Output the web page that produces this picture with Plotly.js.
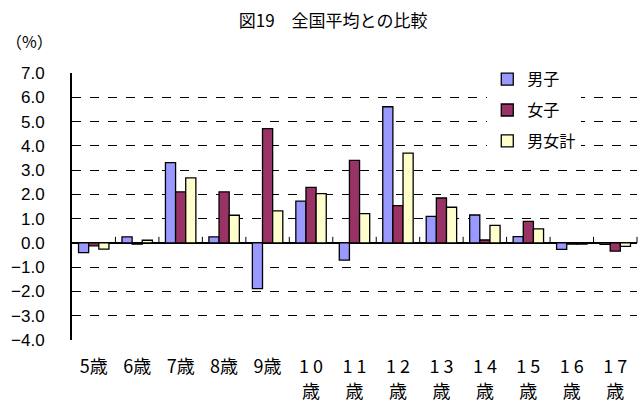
<!DOCTYPE html>
<html><head><meta charset="utf-8">
<script src="https://cdn.plot.ly/plotly-3.0.1.min.js"></script>
<style>body{margin:0;background:#fff}#c{width:643px;height:403px}</style>
</head><body><div id="c"></div>
<script>
const categories = ["5歳","6歳","7歳","8歳","9歳","10歳","11歳","12歳","13歳","14歳","15歳","16歳","17歳"];
const labelLine1 = ["5歳","6歳","7歳","8歳","9歳","1 0","1 1","1 2","1 3","1 4","1 5","1 6","1 7"];
const labelLine2 = ["","","","","","歳","歳","歳","歳","歳","歳","歳","歳"];
const boys  = [-0.40, 0.25, 3.31, 0.25, -1.88, 1.72, -0.71, 5.61, 1.09, 1.15, 0.26, -0.27, -0.06];
const girls = [-0.12,-0.05, 2.10, 2.10,  4.71, 2.29,  3.40, 1.54, 1.85, 0.12, 0.89, -0.05, -0.34];
const total = [-0.26, 0.11, 2.68, 1.14,  1.32, 2.03,  1.21, 3.70, 1.47, 0.72, 0.58, -0.05, -0.14];
const seriesNames = ["男子","女子","男女計"];
const yTicks = [7,6,5,4,3,2,1,0,-1,-2,-3,-4];
const yTickText = ["7.0","6.0","5.0","4.0","3.0","2.0","1.0","0.0","−1.0","−2.0","−3.0","−4.0"];

const colors = ["#9999FF","#993366","#FFFFCC"];
const data = [boys, girls, total].map((v,i)=>({
  type:"bar", x:categories, y:v, name:seriesNames[i], legendgroup:"g"+i,
  marker:{color:colors[i], line:{color:"#000", width:1.3}}
}));
const idx = categories.map((c,i)=>i);
// invisible helper trace so the second label row axis is drawn
data.push({type:"scatter", mode:"none", x:idx, y:total, xaxis:"x2", yaxis:"y", showlegend:false, hoverinfo:"skip"});

const shapes = [];
for (let i=0;i<categories.length-1;i++){
  shapes.push({type:"line", xref:"x", yref:"y", x0:i+0.5, x1:i+0.5, y0:0, y1:0.25, line:{color:"#000",width:1}});
}
shapes.push({type:"line", xref:"paper", yref:"y", x0:1, x1:1, y0:0, y1:0.25, line:{color:"#000",width:1}});

const layout = {
  width:643, height:403,
  margin:{l:72, r:6, t:73, b:63},
  paper_bgcolor:"#fff", plot_bgcolor:"#fff",
  font:{family:"Noto Sans CJK JP, sans-serif", color:"#000"},
  title:{text:"図19　全国平均との比較", font:{size:17}, x:0.518, xanchor:"center", y:0.948, yanchor:"middle"},
  barmode:"group", bargap:0.3, bargroupgap:0,
  xaxis:{type:"category", showline:false, showgrid:false, zeroline:false, ticks:"",
    tickvals:categories, ticktext:labelLine1,
    tickfont:{size:18}, ticklabelstandoff:14, fixedrange:true},
  xaxis2:{overlaying:"x", anchor:"y", side:"bottom", range:[-0.5, categories.length-0.5],
    tickvals:idx, ticktext:labelLine2, showline:false, showgrid:false, zeroline:false, ticks:"",
    tickfont:{size:18}, ticklabelstandoff:39, fixedrange:true},
  yaxis:{range:[-4,7], tickvals:yTicks, ticktext:yTickText, showgrid:true, gridcolor:"#000",
    griddash:"dash", gridwidth:1, zeroline:true, zerolinecolor:"#000", zerolinewidth:2,
    showline:true, linecolor:"#000", linewidth:2, ticks:"", tickfont:{family:"Liberation Sans, Arial, sans-serif", size:17},
    ticklabelstandoff:22, fixedrange:true},
  legend:{x:0.735, y:1.04, xanchor:"left", yanchor:"top", bgcolor:"#fff", borderwidth:0,
    font:{size:16}, traceorder:"grouped", tracegroupgap:7, itemwidth:30},
  shapes:shapes,
  annotations:[{text:"（%）", xref:"paper", yref:"paper", x:-0.12, y:1.12, xanchor:"left", yanchor:"middle", showarrow:false, font:{size:16}}]
};
Plotly.newPlot("c", data, layout, {displayModeBar:false, staticPlot:true});
</script></body></html>
